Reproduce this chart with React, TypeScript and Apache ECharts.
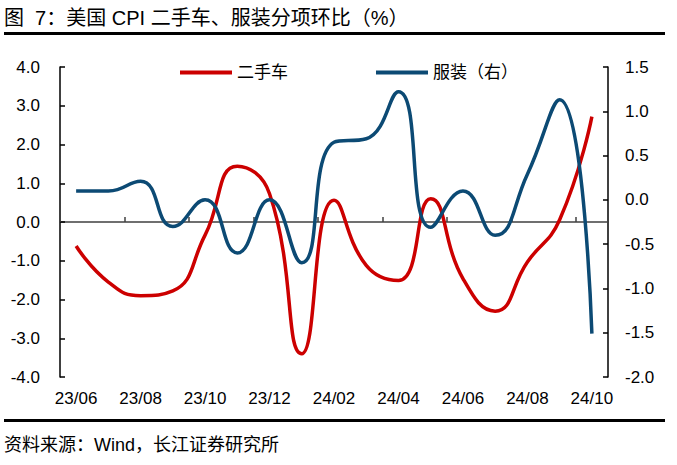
import React, { useEffect, useRef } from "react";
import * as echarts from "echarts";

const months = [
  "23/06", "23/07", "23/08", "23/09", "23/10", "23/11", "23/12",
  "24/01", "24/02", "24/03", "24/04", "24/05", "24/06", "24/07",
  "24/08", "24/09", "24/10",
];
const usedCars = [
  -0.62, -1.55, -1.9, -1.78, -0.34, 1.44, 0.73, -3.4, 0.56, -1.12,
  -1.51, 0.6, -1.46, -2.3, -1.03, 0.06, 2.72,
];
const apparel = [
  0.1, 0.1, 0.21, -0.3, 0.0, -0.6, 0.0, -0.71, 0.65, 0.69, 1.22,
  -0.31, 0.1, -0.4, 0.29, 1.13, -1.51,
];
const leftTicks = { min: -4, max: 4, interval: 1 };
const rightTicks = { min: -2, max: 1.5, interval: 0.5 };

const seriesNames = ["二手车", "服装（右）"];
const titleText = "图  7：美国 CPI 二手车、服装分项环比（%）";
const sourceText = "资料来源：Wind，长江证券研究所";

const FONT = '"Liberation Sans", "Noto Sans CJK SC", sans-serif';
const RED = "#CC0000";
const BLUE = "#0C4A74";

export default function App() {
  const ref = useRef<HTMLDivElement>(null);

  useEffect(() => {
    if (!ref.current) return;
    const chart = echarts.init(ref.current, undefined, { renderer: "svg" });
    const axisLabel = { color: "#000", fontSize: 17, fontFamily: FONT };
    chart.setOption({
      animation: false,
      textStyle: { fontFamily: FONT },
      grid: { left: 60, right: 69, top: 67, bottom: 88 },
      legend: {
        data: seriesNames,
        left: 175,
        top: 59,
        icon: "rect",
        itemWidth: 52,
        itemHeight: 4,
        itemGap: 88,
        textStyle: { color: "#000", fontSize: 17, fontFamily: FONT },
      },
      xAxis: [
        {
          type: "category",
          data: months,
          boundaryGap: true,
          position: "bottom",
          axisLine: { show: false, onZero: false },
          axisTick: { show: false },
          axisLabel: { ...axisLabel, interval: 1, margin: 13 },
          splitLine: { show: false },
        },
        {
          type: "category",
          data: months,
          boundaryGap: true,
          position: "bottom",
          axisLine: { show: true, onZero: true, onZeroAxisIndex: 0, lineStyle: { color: "#404040", width: 1.5 } },
          axisTick: { show: true, inside: true, length: 5, interval: 1, lineStyle: { color: "#404040", width: 1.5 } },
          axisLabel: { show: false },
          splitLine: { show: false },
        },
      ],
      yAxis: [
        {
          type: "value",
          ...leftTicks,
          position: "left",
          axisLine: { show: true, lineStyle: { color: "#000", width: 1.5 } },
          axisTick: { show: true, inside: true, length: 5, lineStyle: { color: "#000", width: 1.5 } },
          axisLabel: { ...axisLabel, margin: 20, formatter: (v: number) => v.toFixed(1) },
          splitLine: { show: false },
        },
        {
          type: "value",
          ...rightTicks,
          position: "right",
          axisLine: { show: true, lineStyle: { color: "#000", width: 1.5 } },
          axisTick: { show: true, inside: true, length: 5, lineStyle: { color: "#000", width: 1.5 } },
          axisLabel: { ...axisLabel, margin: 17, formatter: (v: number) => v.toFixed(1) },
          splitLine: { show: false },
        },
      ],
      series: [
        {
          name: seriesNames[0],
          type: "line",
          data: usedCars,
          xAxisIndex: 0,
          yAxisIndex: 0,
          smooth: true,
          showSymbol: false,
          color: RED,
          lineStyle: { color: RED, width: 3.5 },
        },
        {
          name: seriesNames[1],
          type: "line",
          data: apparel,
          xAxisIndex: 0,
          yAxisIndex: 1,
          smooth: true,
          showSymbol: false,
          color: BLUE,
          lineStyle: { color: BLUE, width: 3.5 },
        },
      ],
      graphic: [
        {
          type: "text",
          left: 4,
          top: 8,
          style: { text: titleText, fill: "#000", fontSize: 20, fontFamily: FONT },
        },
        {
          type: "rect",
          shape: { x: 4, y: 32, width: 661, height: 3 },
          style: { fill: "#000" },
        },
        {
          type: "rect",
          shape: { x: 4, y: 419, width: 661, height: 3 },
          style: { fill: "#000" },
        },
        {
          type: "text",
          left: 4,
          top: 436,
          style: { text: sourceText, fill: "#000", fontSize: 18, fontFamily: FONT },
        },
      ],
    });
    return () => chart.dispose();
  }, []);

  return (
    <div
      ref={ref}
      style={{ position: "fixed", left: 0, top: 0, width: 677, height: 465, background: "#fff" }}
    />
  );
}
